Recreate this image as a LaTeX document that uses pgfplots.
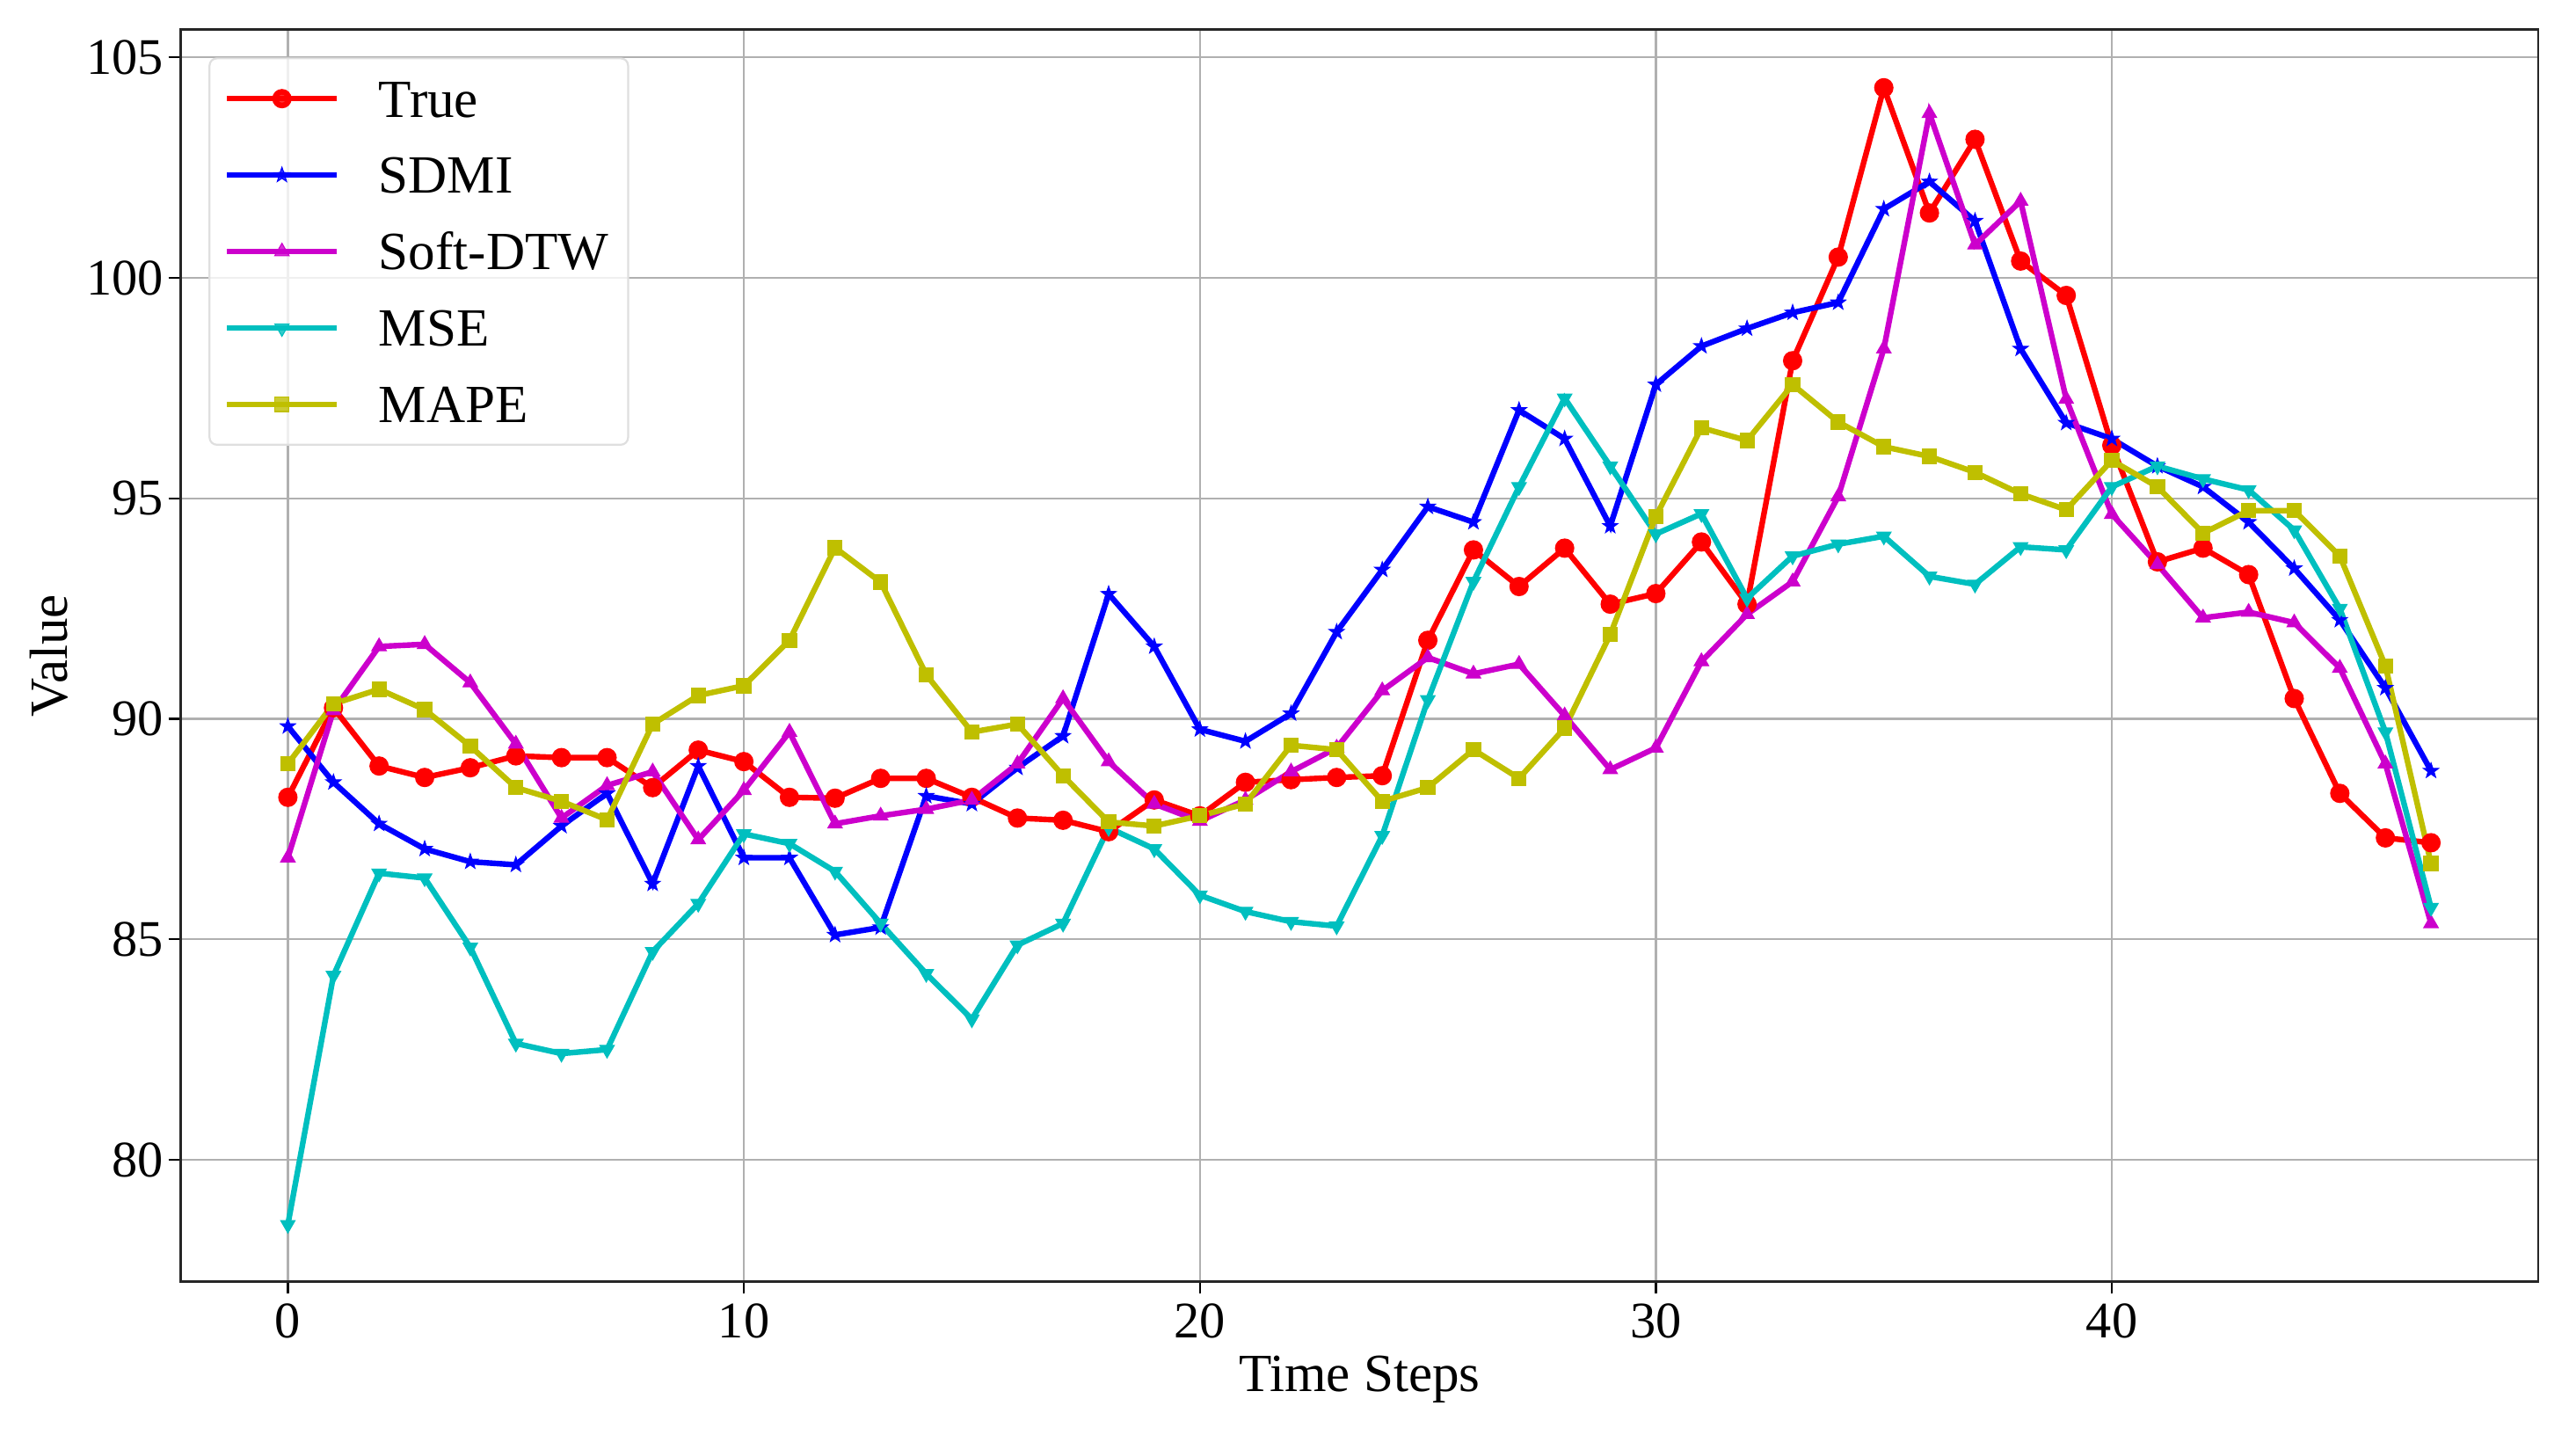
\documentclass[border=0pt]{standalone}
\usepackage{pgfplots}
\usepackage{pgfplotstable}
\pgfplotsset{compat=1.18}
\usepackage{fontspec}
\setmainfont{Liberation Serif}
\usetikzlibrary{plotmarks}
\definecolor{mr}{rgb}{1,0,0}
\definecolor{mb}{rgb}{0,0,1}
\definecolor{mm}{rgb}{0.8,0,0.8}
\definecolor{mc}{rgb}{0,0.75,0.75}
\definecolor{my}{rgb}{0.75,0.75,0}
\pgfdeclareplotmark{fstar}{%
  \pgfpathmoveto{\pgfpointpolar{90}{\pgfplotmarksize}}%
  \pgfpathlineto{\pgfpointpolar{126}{0.4\pgfplotmarksize}}%
  \pgfpathlineto{\pgfpointpolar{162}{\pgfplotmarksize}}%
  \pgfpathlineto{\pgfpointpolar{198}{0.4\pgfplotmarksize}}%
  \pgfpathlineto{\pgfpointpolar{234}{\pgfplotmarksize}}%
  \pgfpathlineto{\pgfpointpolar{270}{0.4\pgfplotmarksize}}%
  \pgfpathlineto{\pgfpointpolar{306}{\pgfplotmarksize}}%
  \pgfpathlineto{\pgfpointpolar{342}{0.4\pgfplotmarksize}}%
  \pgfpathlineto{\pgfpointpolar{18}{\pgfplotmarksize}}%
  \pgfpathlineto{\pgfpointpolar{54}{0.4\pgfplotmarksize}}%
  \pgfpathclose\pgfusepathqfillstroke}
\pgfplotstableread{
x true sdmi sdtw mse mape
0 88.22 89.83 86.85 78.53 88.98
1 90.25 88.56 90.19 84.18 90.34
2 88.93 87.62 91.64 86.50 90.67
3 88.67 87.05 91.69 86.39 90.21
4 88.89 86.76 90.82 84.82 89.38
5 89.16 86.69 89.43 82.64 88.44
6 89.12 87.57 87.75 82.41 88.13
7 89.12 88.31 88.49 82.50 87.71
8 88.44 86.26 88.80 84.72 89.88
9 89.29 88.93 87.26 85.81 90.53
10 89.03 86.85 88.38 87.39 90.75
11 88.22 86.85 89.70 87.17 91.78
12 88.20 85.10 87.62 86.54 93.88
13 88.65 85.27 87.80 85.36 93.10
14 88.65 88.25 87.95 84.22 91.00
15 88.22 88.07 88.16 83.19 89.70
16 87.75 88.89 88.98 84.87 89.88
17 87.70 89.61 90.46 85.36 88.71
18 87.44 92.83 89.03 87.53 87.66
19 88.16 91.64 88.07 87.05 87.57
20 87.80 89.76 87.68 86.00 87.80
21 88.56 89.49 88.16 85.63 88.07
22 88.62 90.12 88.80 85.40 89.40
23 88.67 91.97 89.34 85.30 89.30
24 88.71 93.38 90.64 87.35 88.13
25 91.78 94.81 91.39 90.43 88.44
26 93.83 94.46 91.02 93.11 89.30
27 93.00 97.00 91.24 95.26 88.65
28 93.87 96.35 90.07 97.27 89.79
29 92.60 94.37 88.85 95.73 91.91
30 92.84 97.58 89.34 94.19 94.59
31 94.01 98.45 91.30 94.65 96.60
32 92.60 98.85 92.37 92.73 96.31
33 98.12 99.21 93.11 93.69 97.58
34 100.47 99.44 95.04 93.96 96.73
35 104.31 101.56 98.39 94.14 96.17
36 101.47 102.18 103.73 93.23 95.95
37 103.14 101.29 100.75 93.05 95.59
38 100.38 98.39 101.74 93.90 95.10
39 99.60 96.71 97.25 93.83 94.74
40 96.20 96.35 94.64 95.26 95.86
41 93.56 95.73 93.50 95.73 95.26
42 93.87 95.26 92.29 95.44 94.21
43 93.27 94.46 92.42 95.19 94.72
44 90.46 93.41 92.18 94.28 94.72
45 88.31 92.24 91.15 92.50 93.69
46 87.30 90.70 88.98 89.70 91.20
47 87.19 88.82 85.36 85.72 86.72
}\datatable
\begin{document}
\begin{tikzpicture}
\begin{axis}[
  scale only axis,
  width=965.3pt, height=512.6pt,
  xmin=-2.35, xmax=49.35, ymin=77.24, ymax=105.63,
  xtick={0,10,20,30,40}, ytick={80,85,90,95,100,105},
  tick pos=left, tick align=outside,
  major tick length=5pt,
  every tick/.style={black, line width=0.8pt},
  axis line style={black!85, line width=0.9pt},
  grid=major,
  major grid style={gray!62, line width=0.8pt},
  /pgf/number format/assume math mode=true,
  tick label style={font=\fontsize{21}{25}\selectfont},
  x tick label style={inner sep=0pt, anchor=north, yshift=-4pt},
  y tick label style={inner sep=0pt, anchor=east, xshift=-2pt},
  label style={font=\fontsize{22}{26}\selectfont},
  xlabel={Time Steps}, ylabel={Value},
  x label style={at={(axis description cs:0.5,0)}, anchor=center, yshift=-40pt},
  y label style={at={(axis description cs:0,0.5)}, anchor=center, yshift=53.8pt},
  legend cell align=left,
  legend image code/.code={%
    \draw[mark repeat=2,mark phase=2] plot coordinates {(0pt,0pt) (22.5pt,0pt) (45pt,0pt)};},
  legend style={at={(axis description cs:0,1)}, anchor=north west,
    xshift=11.4pt, yshift=-11.4pt,
    draw=gray!25, line width=0.8pt, rounded corners=3pt,
    fill=white, fill opacity=0.8, text opacity=1,
    font=\fontsize{22}{26}\selectfont,
    inner xsep=6pt, inner ysep=7pt,
    row sep=12.3pt,
    nodes={text height=15pt, text depth=0pt, inner sep=2pt},
    /tikz/every odd column/.append style={column sep=14pt}},
  every axis plot/.append style={line width=2.3pt},
]
\addplot[color=mr, mark=*, mark size=2.8pt, mark options={solid}] table[x=x,y=true] {\datatable};
\addlegendentry{True}
\addplot[color=mb, mark=fstar, mark size=3.2pt, mark options={solid, line width=0.4pt}] table[x=x,y=sdmi] {\datatable};
\addlegendentry{SDMI}
\addplot[color=mm, mark=triangle*, mark size=3.4pt, mark options={solid, line width=0.4pt}] table[x=x,y=sdtw] {\datatable};
\addlegendentry{Soft-DTW}
\addplot[color=mc, mark=triangle*, mark size=3.4pt, mark options={solid, rotate=180, line width=0.4pt}] table[x=x,y=mse] {\datatable};
\addlegendentry{MSE}
\addplot[color=my, mark=square*, mark size=2.9pt, mark options={solid, line width=0.4pt}] table[x=x,y=mape] {\datatable};
\addlegendentry{MAPE}
\end{axis}
\path (current axis.south west) ++(-74pt,-62.5pt) (current axis.north east) ++(15.5pt,12.1pt);
\end{tikzpicture}
\end{document}
